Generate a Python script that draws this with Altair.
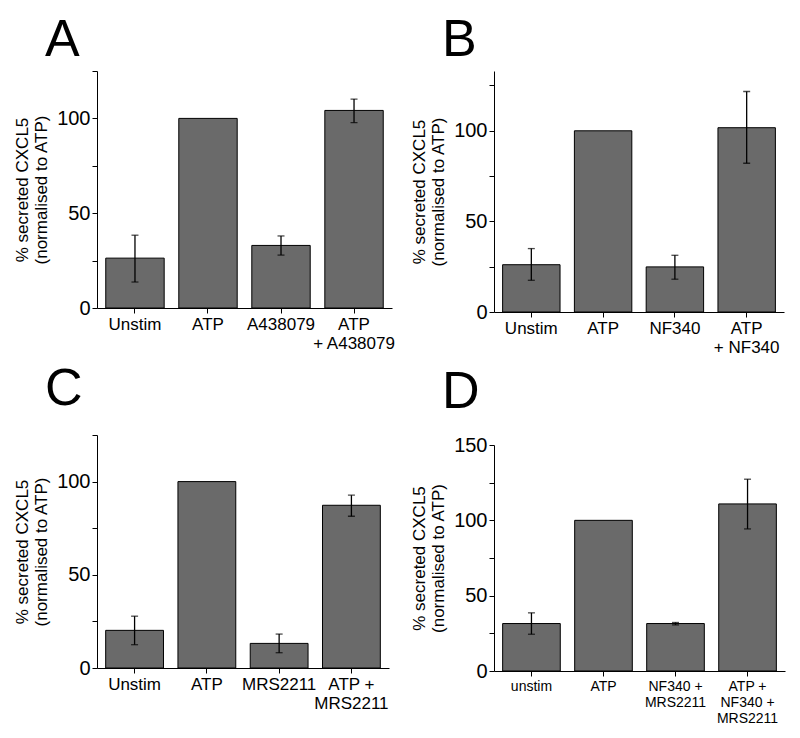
import altair as alt
import pandas as pd

FONT = "Liberation Sans"
BAR_COLOR = "#6a6a6a"
YTITLE = ["% secreted CXCL5", "(normalised to ATP)"]

# Panel A
cats_a = ["Unstim", "ATP", "A438079", "ATP\n+ A438079"]
vals_a = [26.3, 100, 33, 104.2]
lo_a = [13.7, None, 27.9, 97.8]
hi_a = [38.4, None, 38.0, 110.2]

# Panel B
cats_b = ["Unstim ", "ATP ", "NF340", "ATP\n+ NF340"]
vals_b = [26.1, 100, 24.9, 101.7]
lo_b = [17.5, None, 18.1, 82.1]
hi_b = [35.0, None, 31.3, 121.7]

# Panel C
cats_c = ["Unstim  ", "ATP  ", "MRS2211", "ATP +\nMRS2211"]
vals_c = [20.2, 100, 13.2, 87.3]
lo_c = [12.5, None, 8.2, 81.4]
hi_c = [27.8, None, 18.2, 92.7]

# Panel D
cats_d = ["unstim", "ATP   ", "NF340 +\nMRS2211", "ATP +\nNF340 +\nMRS2211"]
vals_d = [31.5, 100, 31.5, 110.9]
lo_d = [24.4, None, 30.6, 94.3]
hi_d = [38.6, None, 32.2, 127.3]


def panel(letter, cats, vals, lo, hi, ymax, ticks, w, h, xfs, toff):
    df = pd.DataFrame({"cat": cats, "val": vals, "lo": lo, "hi": hi})
    xenc = alt.X(
        "cat:N",
        sort=cats,
        scale=alt.Scale(paddingInner=0.2, paddingOuter=0.12),
        axis=alt.Axis(
            title=None,
            labelAngle=0,
            labelExpr="split(trim(datum.label), '\\n')",
            labelFontSize=xfs,
            labelLineHeight=xfs * 1.15,
            labelPadding=3,
            tickSize=5,
        ),
    )
    yaxis = alt.Axis(
        title=YTITLE,
        values=ticks,
        labelExpr="datum.value % 50 == 0 ? datum.label : ''",
        labelFontSize=20,
        labelPadding=2,
        tickSize=5,
        titleFontSize=17,
        titleFontWeight="normal",
        titlePadding=6,
    )
    yscale = alt.Scale(domain=[0, ymax], nice=False, zero=True)
    base = alt.Chart(df).encode(x=xenc)
    bars = base.mark_bar(color=BAR_COLOR, stroke="black", strokeWidth=1).encode(
        y=alt.Y("val:Q", scale=yscale, axis=yaxis)
    )
    rules = base.mark_rule(color="black", strokeWidth=1.3).encode(
        y=alt.Y("lo:Q", scale=yscale, axis=yaxis), y2="hi:Q"
    )
    cap_hi = base.mark_tick(color="black", size=7, thickness=1.3).encode(
        y=alt.Y("hi:Q", scale=yscale, axis=yaxis)
    )
    cap_lo = base.mark_tick(color="black", size=7, thickness=1.3).encode(
        y=alt.Y("lo:Q", scale=yscale, axis=yaxis)
    )
    return alt.layer(bars, rules, cap_hi, cap_lo).properties(
        width=w,
        height=h,
        title=alt.TitleParams(
            letter, anchor="start", frame="group", fontSize=52, fontWeight="normal",
            dx=-52, offset=toff, font=FONT, color="black",
        ),
    )


pa = panel("A", cats_a, vals_a, lo_a, hi_a, 125, [0, 25, 50, 75, 100, 125], 295, 237, 17, 4)
pb = panel("B", cats_b, vals_b, lo_b, hi_b, 133, [0, 25, 50, 75, 100, 125], 290, 241, 17, 4)
pc = panel("C", cats_c, vals_c, lo_c, hi_c, 125, [0, 25, 50, 75, 100, 125], 292, 233, 17, 19)
pd_ = panel("D", cats_d, vals_d, lo_d, hi_d, 150, [0, 25, 50, 75, 100, 125, 150], 291, 226, 14, 16)

chart = alt.hconcat(
    alt.vconcat(pa, pc, spacing=10),
    alt.vconcat(pb, pd_, spacing=10),
    spacing=15,
).configure(font=FONT, padding={"left": 5, "top": 5, "right": 5, "bottom": 0}).configure_view(
    stroke=None
).configure_axis(
    domainColor="black", tickColor="black", labelColor="black", titleColor="black",
    grid=False, domainWidth=1, tickWidth=1, labelFont=FONT, titleFont=FONT,
)

chart.save("out.html", embed_options={"renderer": "svg", "actions": False})
